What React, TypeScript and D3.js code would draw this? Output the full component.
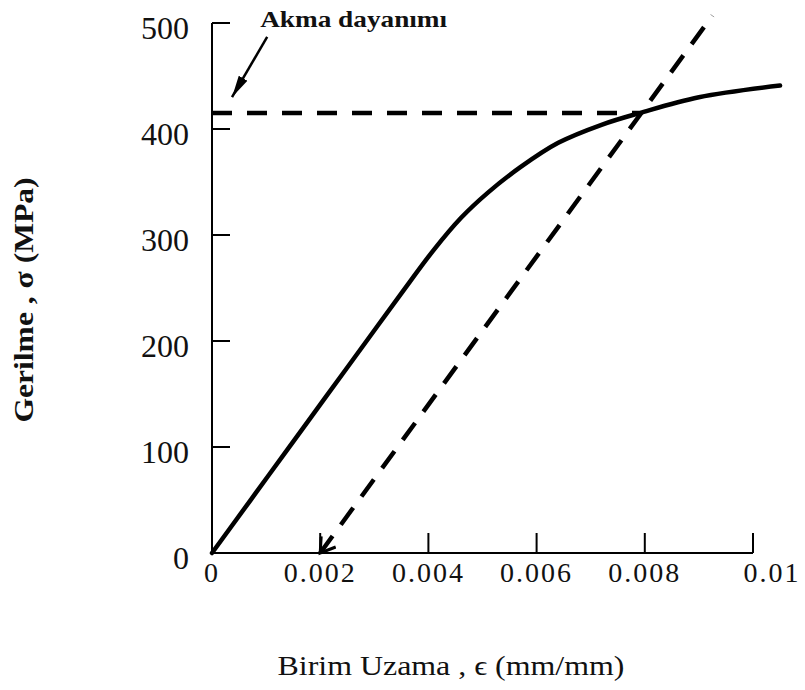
import React from 'react';
import * as d3 from 'd3';

// stress-strain curve
const strain = [0, 0.0007, 0.0014, 0.0021, 0.0028, 0.0035, 0.0041, 0.0046, 0.0051, 0.0057, 0.0064, 0.0072, 0.0079, 0.009, 0.0105];
const stress = [0, 49, 98, 147, 196, 245, 286, 316, 340, 364, 387, 404, 415, 430, 441];

// 0.2% offset line
const offsetStrain = [0.002, 0.00925];
const offsetStress = [0, 507];

// yield strength line
const yieldStrain = [0, 0.0079];
const yieldStress = [415, 415];

const xTicks = [0, 0.002, 0.004, 0.006, 0.008, 0.01];
const xTickLabels = ['0', '0.002', '0.004', '0.006', '0.008', '0.01'];
const yTicks = [0, 100, 200, 300, 400, 500];
const yTickLabels = ['0', '100', '200', '300', '400', '500'];

// annotation "Akma dayanımı" (data units)
const noteText = 'Akma dayanımı';
const noteAt = [0.00089, 496];
const noteArrowFrom = [0.00102, 487];
const noteArrowTo = [0.00037, 430];

const width = 805;
const height = 690;
const margin = { top: 23, right: 52, bottom: 137, left: 212 };

const x = d3.scaleLinear().domain([0, 0.01]).range([margin.left, width - margin.right]);
const y = d3.scaleLinear().domain([0, 500]).range([height - margin.bottom, margin.top]);

const font = '"Liberation Serif", "Times New Roman", serif';

export default function App() {
  const curve = d3.line<number>()
    .x((d, i) => x(strain[i]))
    .y(d => y(d))
    .curve(d3.curveCatmullRom.alpha(0.5));

  const straight = (xs: number[], ys: number[]) =>
    d3.line<number>().x((d, i) => x(xs[i])).y(d => y(d))(ys) as string;

  const x0 = x(0);
  const y0 = y(0);

  return (
    <svg width={width} height={height} style={{ position: 'absolute', left: 0, top: 0, background: '#fff' }}>
      <defs>
        <marker id="openArrow" viewBox="-16 -10 20 20" markerWidth={20} markerHeight={20}
          markerUnits="userSpaceOnUse" orient="auto-start-reverse" refX={0} refY={0}>
          <path d="M-14,-9 L0,0 L-14,9" fill="none" stroke="#000" strokeWidth={3} />
        </marker>
        <marker id="solidArrow" viewBox="-22 -6 24 12" markerWidth={24} markerHeight={12}
          markerUnits="userSpaceOnUse" orient="auto" refX={0} refY={0}>
          <path d="M-22,-5 L0,0 L-22,5 Z" fill="#000" />
        </marker>
      </defs>

      {/* axes */}
      <g stroke="#000" strokeWidth={2} fill="none">
        <line x1={x0} x2={x0} y1={y0} y2={y(500)} />
        <line x1={x0} x2={x(0.01)} y1={y0} y2={y0} />
        {yTicks.filter(t => t > 0).map(t => (
          <line key={'yt' + t} x1={x0} x2={x0 + 18} y1={y(t)} y2={y(t)} />
        ))}
        {xTicks.filter(t => t > 0).map(t => (
          <line key={'xt' + t} x1={x(t)} x2={x(t)} y1={y0} y2={y0 - 20} />
        ))}
      </g>

      {/* tick labels */}
      <g fontFamily={font} fill="#111">
        {yTicks.map((t, i) => (
          <text key={'yl' + t} x={x0 - 23} y={y(t) + 16} fontSize={32} textAnchor="end">{yTickLabels[i]}</text>
        ))}
        {xTicks.map((t, i) => (
          <text key={'xl' + t} x={x(t) + (i === xTicks.length - 1 ? 19 : 0)} y={y0 + 29} fontSize={28}
            letterSpacing={2} textAnchor="middle">{xTickLabels[i]}</text>
        ))}
      </g>

      {/* data */}
      <path d={curve(stress) as string} fill="none" stroke="#000" strokeWidth={4.5} strokeLinecap="round" />
      <path d={straight(offsetStrain, offsetStress)} fill="none" stroke="#000" strokeWidth={4.5}
        strokeDasharray="21 14" markerStart="url(#openArrow)" />
      <path d={straight(yieldStrain, yieldStress)} fill="none" stroke="#000" strokeWidth={4.5}
        strokeDasharray="20 15" />

      {/* annotation */}
      <line x1={x(noteArrowFrom[0])} y1={y(noteArrowFrom[1])} x2={x(noteArrowTo[0])} y2={y(noteArrowTo[1])}
        stroke="#000" strokeWidth={2.5} markerEnd="url(#solidArrow)" />
      <text x={x(noteAt[0])} y={y(noteAt[1])} fontFamily={font} fontWeight="bold" fontSize={24}
        textLength={187} lengthAdjust="spacingAndGlyphs" fill="#111">{noteText}</text>

      {/* axis titles */}
      <text transform={`translate(33, 300) rotate(-90)`} fontFamily={font} fontWeight="bold" fontSize={27}
        textAnchor="middle" textLength={245} lengthAdjust="spacingAndGlyphs" fill="#111">Gerilme , σ (MPa)</text>
      <text x={451} y={675} fontFamily={font} fontSize={28} textAnchor="middle" textLength={347}
        lengthAdjust="spacingAndGlyphs" fill="#111">Birim Uzama , ϵ (mm/mm)</text>
    </svg>
  );
}
